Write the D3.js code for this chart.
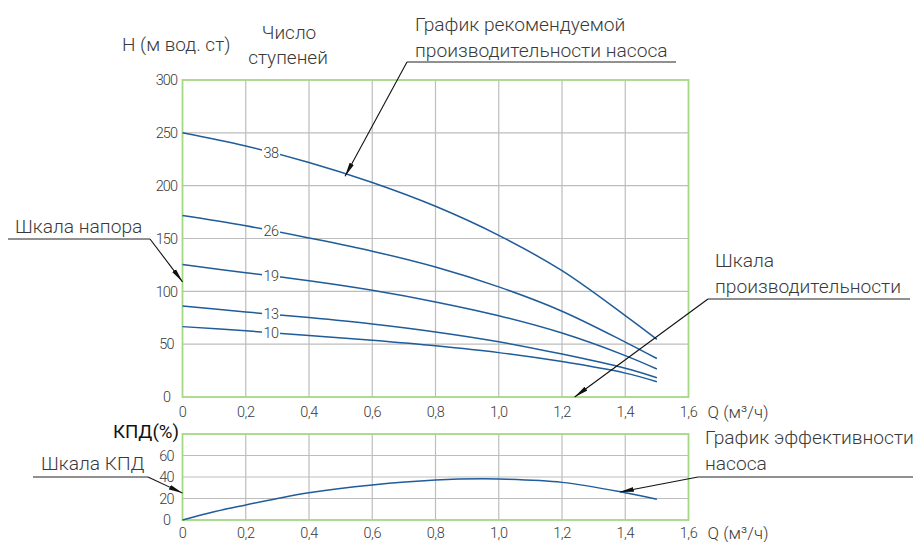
<!DOCTYPE html>
<html><head><meta charset="utf-8">
<script src="https://cdn.jsdelivr.net/npm/d3@7"></script>
<style>
body{margin:0;background:#fff;}
svg{font-family:Roboto,"Noto Sans",sans-serif;}
</style></head>
<body><svg id="c" width="914" height="542"></svg>
<script>
// ---------- data ----------
const qPoints = [0, 0.2, 0.4, 0.6, 0.8, 1.0, 1.2, 1.4, 1.5];
const stages = ["38", "26", "19", "13", "10"];
const head38 = [250, 237.5, 222, 203, 180.5, 153, 119.5, 77, 54.5];
const head26 = [171.7, 162, 150.5, 138, 123, 104.2, 81.2, 52, 36.4];
const head19 = [125.3, 117.6, 110, 101, 90, 76.9, 60.5, 39.2, 26.5];
const head13 = [86.2, 80.5, 75.2, 69.1, 61.6, 52.3, 40.6, 27.2, 18.3];
const head10 = [66.6, 62.6, 58.2, 53.6, 48.4, 42, 33.5, 22.6, 14.5];
const headSeries = [head38, head26, head19, head13, head10];
const effQ = [0, 0.1, 0.2, 0.3, 0.4, 0.6, 0.8, 0.95, 1.0, 1.2, 1.4, 1.5];
const effVals = [0, 7.7, 14, 20, 25.4, 32.6, 37.2, 38.4, 38.1, 35, 25.4, 19.3];
const qTicks = [0, 0.2, 0.4, 0.6, 0.8, 1.0, 1.2, 1.4, 1.6];
const hTicks = [0, 50, 100, 150, 200, 250, 300];
const effTicks = [0, 20, 40, 60];
const labelQ = 0.28;

// ---------- layout ----------
const svg = d3.select("#c");
const x = d3.scaleLinear().domain([0, 1.6]).range([182.5, 688.5]);
const yH = d3.scaleLinear().domain([0, 300]).range([397, 80]);
const yE = d3.scaleLinear().domain([0, 80]).range([520, 434]);
const fmt = d => d === 0 ? "0" : d3.format(".1f")(d).replace(".", ",");
const gridCol = "#bdbdbd", borderCol = "#a5d884", lineCol = "#1f5c99", txtCol = "#3a3a3a";

svg.append("defs").append("marker")
  .attr("id", "arr").attr("viewBox", "0 0 14 6").attr("refX", 14).attr("refY", 3)
  .attr("markerWidth", 14).attr("markerHeight", 6).attr("markerUnits", "userSpaceOnUse")
  .attr("orient", "auto")
  .append("path").attr("d", "M0,0.6 L14,3 L0,5.4 Z").attr("fill", "#111");

function panel(yScale, yTicks, yMax, xLabOff) {
  const g = svg.append("g");
  g.selectAll(".gv").data(qTicks.slice(1, -1)).join("line")
    .attr("x1", d => x(d)).attr("x2", d => x(d))
    .attr("y1", yScale(0)).attr("y2", yScale(yMax))
    .attr("stroke", gridCol).attr("stroke-width", 1.2);
  g.selectAll(".gh").data(yTicks.filter(t => t > 0 && t < yMax)).join("line")
    .attr("x1", x(0)).attr("x2", x(1.6))
    .attr("y1", d => yScale(d)).attr("y2", d => yScale(d))
    .attr("stroke", gridCol).attr("stroke-width", 1.2);
  g.append("rect").attr("x", x(0)).attr("y", yScale(yMax))
    .attr("width", x(1.6) - x(0)).attr("height", yScale(0) - yScale(yMax))
    .attr("fill", "none").attr("stroke", borderCol).attr("stroke-width", 1.8);
  g.selectAll(".yl").data(yTicks).join("text")
    .attr("x", 166.5).attr("y", d => yScale(d)).attr("dy", "0.36em")
    .attr("text-anchor", "middle").attr("font-size", 14.5).attr("font-weight", 300)
    .attr("fill", txtCol).attr("letter-spacing", -0.8).text(d => d);
  g.selectAll(".xl").data(qTicks).join("text")
    .attr("x", d => x(d)).attr("y", yScale(0) + xLabOff).attr("dy", "0.36em")
    .attr("text-anchor", "middle").attr("font-size", 14.5).attr("font-weight", 300)
    .attr("fill", txtCol).attr("letter-spacing", -0.5).text(fmt);
  g.append("text").attr("x", x(1.6) + 19).attr("y", yScale(0) + xLabOff).attr("dy", "0.36em")
    .attr("font-size", 17).attr("font-weight", 300).attr("fill", txtCol).text("Q (м³/ч)");
  return g;
}

panel(yH, hTicks, 300, 15);
panel(yE, effTicks, 80, 13);

// head curves
const lineH = d3.line().x(d => x(d[0])).y(d => yH(d[1])).curve(d3.curveCatmullRom.alpha(0.5));
const curves = svg.append("g");
headSeries.forEach(s => {
  curves.append("path").datum(qPoints.map((q, i) => [q, s[i]]))
    .attr("d", lineH).attr("fill", "none").attr("stroke", lineCol).attr("stroke-width", 1.5);
});
headSeries.forEach((s, i) => {
  const h = d3.scaleLinear().domain(qPoints).range(s)(labelQ);
  const cx = x(labelQ), cy = yH(h);
  curves.append("rect").attr("x", cx - 9).attr("y", cy - 7.5).attr("width", 18).attr("height", 15).attr("fill", "#fff");
  curves.append("text").attr("x", cx).attr("y", cy).attr("dy", "0.36em")
    .attr("text-anchor", "middle").attr("font-size", 14.5).attr("font-weight", 300)
    .attr("letter-spacing", -0.6).attr("fill", txtCol).text(stages[i]);
});

// efficiency curve
const lineE = d3.line().x(d => x(d[0])).y(d => yE(d[1])).curve(d3.curveCatmullRom.alpha(0.5));
svg.append("path").datum(effQ.map((q, i) => [q, effVals[i]]))
  .attr("d", lineE).attr("fill", "none").attr("stroke", lineCol).attr("stroke-width", 1.5);

// titles
const T = (tx, ty, s, size, opts = {}) => svg.append("text").attr("x", tx).attr("y", ty).attr("dy", "0.36em")
  .attr("font-size", size).attr("font-weight", opts.w || 300).attr("fill", opts.c || txtCol)
  .attr("text-anchor", opts.a || "start").text(s);
T(122, 44, "H (м вод. ст)", 19);
T(289, 32, "Число", 19, {a: "middle"});
T(288, 57, "ступеней", 19, {a: "middle"});
T(113, 431, "КПД(%)", 18.7, {w: 400, c: "#111"});

// annotations
const ann = [
  {lines: ["График рекомендуемой", "производительности насоса"], tx: 415, ty: 24, ux1: 407, ux2: 676, uy: 62, side: "left", tip: [x(0.514), yH(209)]},
  {lines: ["Шкала напора"], tx: 15, ty: 226, ux1: 8, ux2: 150, uy: 239, side: "right", tip: [x(0), yH(109)]},
  {lines: ["Шкала", "производительности"], tx: 715, ty: 260, ux1: 708, ux2: 910, uy: 299, side: "left", tip: [x(1.24), yH(0)]},
  {lines: ["График эффективности", "насоса"], tx: 705, ty: 437, ux1: 698, ux2: 913, uy: 477, side: "left", tip: [x(1.383), yE(26)]},
  {lines: ["Шкала КПД"], tx: 41, ty: 463, ux1: 33, ux2: 148, uy: 477, side: "right", tip: [x(0), yE(25)]}
];
ann.forEach(a => {
  a.lines.forEach((l, i) => T(a.tx, a.ty + i * 26, l, 19.2));
  svg.append("line").attr("x1", a.ux1).attr("x2", a.ux2).attr("y1", a.uy).attr("y2", a.uy)
    .attr("stroke", "#222").attr("stroke-width", 1);
  const sx = a.side === "left" ? a.ux1 : a.ux2;
  svg.append("line").attr("x1", sx).attr("y1", a.uy).attr("x2", a.tip[0]).attr("y2", a.tip[1])
    .attr("stroke", "#111").attr("stroke-width", 1.1).attr("marker-end", "url(#arr)");
});
</script></body></html>
